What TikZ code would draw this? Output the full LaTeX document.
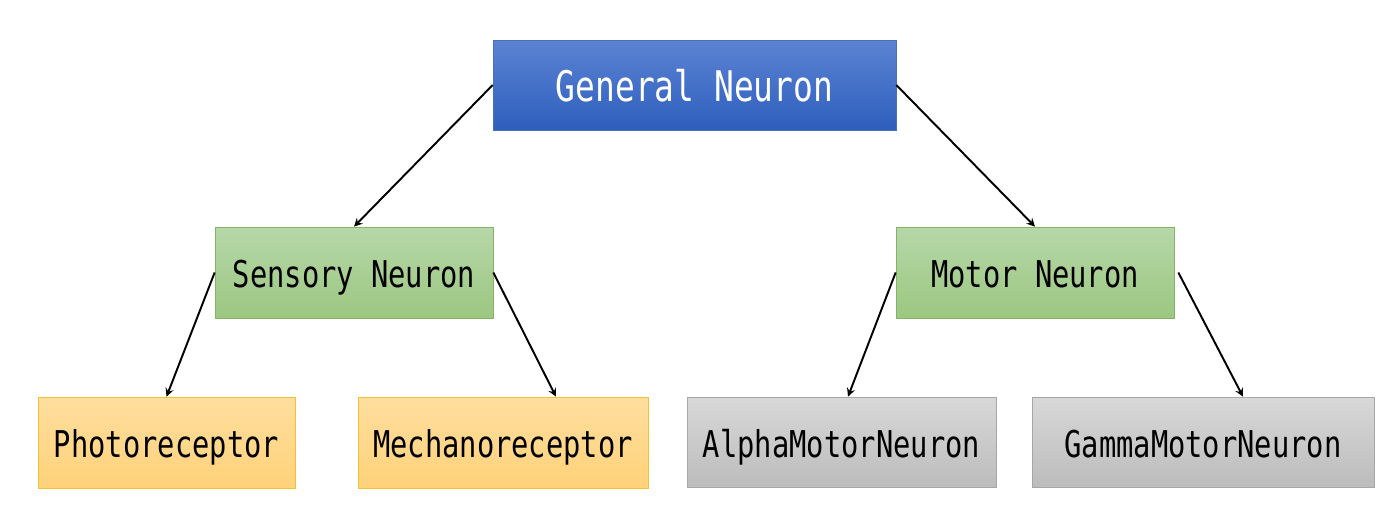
\documentclass[tikz,border=0pt]{standalone}
\usepackage{fontspec}
\newfontfamily\gothic[FakeStretch=0.78]{DejaVu Sans Mono}
\usetikzlibrary{arrows}
\definecolor{bluetop}{HTML}{5B83D2}
\definecolor{bluebot}{HTML}{2E5EBE}
\definecolor{blueline}{HTML}{4A6FB8}
\definecolor{greentop}{HTML}{B6D7A8}
\definecolor{greenbot}{HTML}{9CC781}
\definecolor{greenline}{HTML}{82B366}
\definecolor{orangetop}{HTML}{FFDE9E}
\definecolor{orangebot}{HTML}{FFD27A}
\definecolor{orangeline}{HTML}{F2C233}
\definecolor{graytop}{HTML}{D8D8D8}
\definecolor{graybot}{HTML}{BCBCBC}
\definecolor{grayline}{HTML}{A6A6A6}
\tikzstyle{general} = [rectangle, minimum width=8.06cm, minimum height=1.8cm, inner sep=0pt, text centered, text height=0.8cm, text depth=0.12cm, top color=bluetop, bottom color=bluebot, draw=blueline, text=white, font=\gothic\fontsize{24pt}{27pt}\selectfont]
\tikzstyle{neuron} = [rectangle, minimum width=5.56cm, minimum height=1.82cm, inner sep=0pt, text centered, text height=0.74cm, text depth=0.12cm, top color=greentop, bottom color=greenbot, draw=greenline, font=\gothic\fontsize{21pt}{24pt}\selectfont]
\tikzstyle{receptor} = [rectangle, minimum height=1.82cm, inner sep=0pt, text centered, text height=0.74cm, text depth=0.12cm, top color=orangetop, bottom color=orangebot, draw=orangeline, font=\gothic\fontsize{21pt}{24pt}\selectfont]
\tikzstyle{motor} = [rectangle, minimum height=1.8cm, inner sep=0pt, text centered, text height=0.74cm, text depth=0.12cm, top color=graytop, bottom color=graybot, draw=grayline, font=\gothic\fontsize{21pt}{24pt}\selectfont]
\tikzstyle{arrow} = [line width=1.1pt,->,>=stealth]
\begin{document}
\begin{tikzpicture}[x=0.02cm, y=-0.02cm]
	\useasboundingbox (0,0) rectangle (1383,513);
	\node [general] at (694.5,85) (general) {General Neuron};
	\node [neuron] at (354,272.5) (sensory) {Sensory Neuron};
	\node [neuron] at (1035,272.5) (motorn) {Motor Neuron};
	\node [receptor, minimum width=5.14cm] at (166.5,442.5) (photo) {Photoreceptor};
	\node [receptor, minimum width=5.8cm] at (503,442.5) (mech) {Mechanoreceptor};
	\node [motor, minimum width=6.18cm] at (841.5,442) (alpha) {AlphaMotorNeuron};
	\node [motor, minimum width=6.84cm] at (1203,442) (gamma) {GammaMotorNeuron};

	\draw [arrow] (general.west) -- (sensory.north);
	\draw [arrow] (general.east) -- (motorn.north);
	\draw [arrow] (sensory.west) -- (photo.north);
	\draw [arrow] (sensory.east) -- ([xshift=1.06cm]mech.north);
	\draw [arrow] (motorn.west) -- ([xshift=0.13cm]alpha.north);
	\draw [arrow] ([xshift=0.08cm]motorn.east) -- ([xshift=0.8cm]gamma.north);
\end{tikzpicture}
\end{document}
